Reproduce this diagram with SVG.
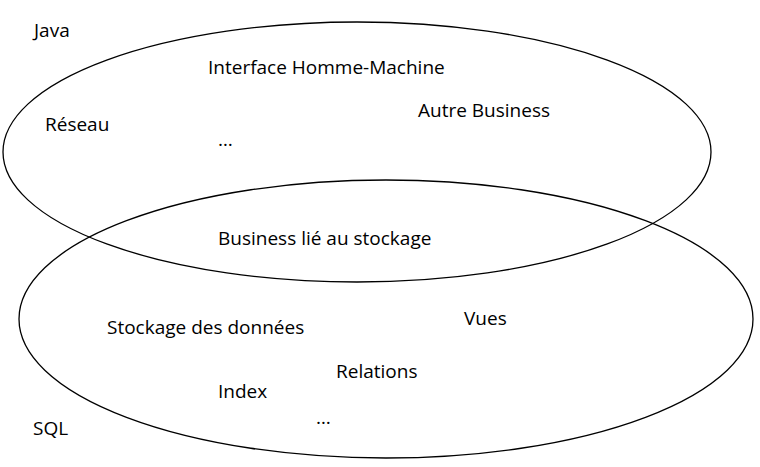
<svg xmlns="http://www.w3.org/2000/svg" width="760" height="467" viewBox="0 0 760 467">
<style>
.set{fill:none;stroke:#000;stroke-width:1.3}
text{font-family:"Open Sans","Liberation Sans",sans-serif;font-size:19px;fill:#000}
</style>
<rect width="760" height="467" fill="#fff"/>
<g id="connectors"></g>
<g id="java">
<ellipse class="set" cx="357" cy="152" rx="354" ry="130"/>
<text x="34" y="37">Java</text>
</g>
<g id="sql">
<ellipse class="set" cx="386" cy="319" rx="367" ry="139"/>
<text x="33" y="435">SQL</text>
</g>
<g id="ihm"><text x="208" y="74">Interface Homme-Machine</text></g>
<g id="autre"><text x="418" y="117">Autre Business</text></g>
<g id="reseau"><text x="45" y="131">Réseau</text></g>
<g id="etc1"><text x="218" y="146">…</text></g>
<g id="business"><text x="218" y="245">Business lié au stockage</text></g>
<g id="vues"><text x="464" y="325">Vues</text></g>
<g id="stockage"><text x="107" y="334">Stockage des données</text></g>
<g id="relations"><text x="336" y="378">Relations</text></g>
<g id="index"><text x="218" y="398">Index</text></g>
<g id="etc2"><text x="316" y="424">…</text></g>
</svg>
